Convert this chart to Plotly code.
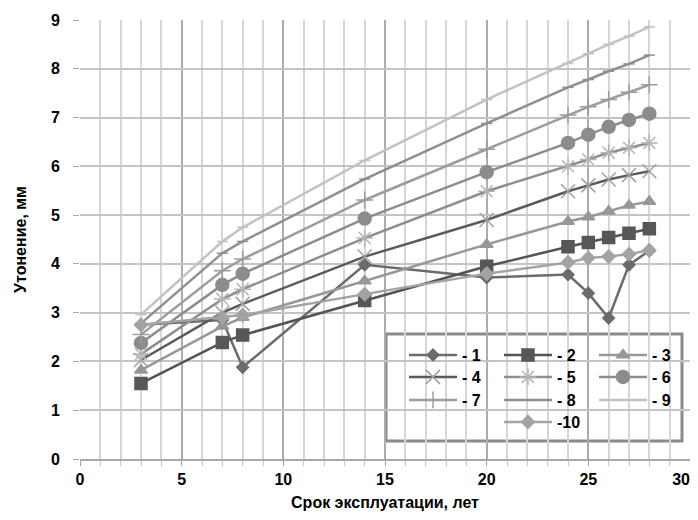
import plotly.graph_objects as go

# ---- data ----
years = [3, 7, 8, 14, 20, 24, 25, 26, 27, 28]
s1 = [2.75, 2.85, 1.88, 3.98, 3.72, 3.78, 3.40, 2.89, 3.98, 4.27]
s2 = [1.55, 2.39, 2.54, 3.25, 3.95, 4.35, 4.44, 4.54, 4.63, 4.72]
s3 = [1.82, 2.72, 2.90, 3.65, 4.40, 4.87, 4.96, 5.08, 5.20, 5.28]
s4 = [2.03, 3.00, 3.18, 4.15, 4.90, 5.49, 5.61, 5.73, 5.82, 5.90]
s5 = [2.15, 3.28, 3.48, 4.53, 5.49, 6.00, 6.14, 6.28, 6.38, 6.48]
s6 = [2.38, 3.57, 3.80, 4.93, 5.88, 6.48, 6.65, 6.81, 6.95, 7.08]
s7 = [2.55, 3.86, 4.10, 5.31, 6.35, 7.05, 7.22, 7.37, 7.52, 7.67]
s8 = [2.78, 4.22, 4.46, 5.74, 6.88, 7.62, 7.78, 7.95, 8.10, 8.28]
s9 = [2.96, 4.46, 4.75, 6.12, 7.37, 8.11, 8.31, 8.50, 8.67, 8.86]
s10 = [2.75, 2.90, 2.95, 3.38, 3.80, 4.03, 4.12, 4.15, 4.20, 4.28]
names = ["- 1", "- 2", "- 3", "- 4", "- 5", "- 6", "- 7", "- 8", "- 9", "-10"]
x_ticks = [0, 5, 10, 15, 20, 25, 30]
y_ticks = [0, 1, 2, 3, 4, 5, 6, 7, 8, 9]

series = [s1, s2, s3, s4, s5, s6, s7, s8, s9, s10]

# style per series: (line colour, marker symbol, marker size, marker colour, line width)
styles = [
    ("#6b6b6b", "diamond", 9, "#6b6b6b", 2.5),
    ("#545454", "square", 12, "#575757", 2.5),
    ("#979797", "triangle-up", 11, "#979797", 2.5),
    ("#5a5a5a", "x-thin-open", 14, "#a0a0a0", 2.5),
    ("#8e8e8e", "asterisk-open", 14, "#b4b4b4", 2.5),
    ("#8c8c8c", "circle", 13, "#8c8c8c", 2.5),
    ("#9c9c9c", "cross-thin-open", 12, "#9c9c9c", 2.5),
    ("#8f8f8f", "line-ew-open", 8, "#8f8f8f", 2.5),
    ("#c2c2c2", "line-ew-open", 8, "#c2c2c2", 2.5),
    ("#a3a3a3", "diamond", 10, "#a3a3a3", 2.5),
]
legend_of = ["legend", "legend", "legend", "legend2", "legend2", "legend2",
             "legend3", "legend3", "legend3", "legend4"]

FONT = "Liberation Sans, Arial, sans-serif"
FS = 16
BOLD = dict(family=FONT, size=FS, color="#000000", weight="bold")

fig = go.Figure()
for vals, name, (lc, sym, ms, mc, lw), lg in zip(series, names, styles, legend_of):
    fig.add_trace(go.Scatter(
        x=years, y=vals, name=name, mode="lines+markers",
        line=dict(color=lc, width=lw),
        marker=dict(symbol=sym, size=ms, color=mc, line=dict(color=mc, width=1.5)),
        legend=lg,
    ))

# page has an 8px body margin; plot area on the page: x 80..690, y 20..459
def py(ypx):
    return (459 - ypx) / 439.0

def px(xpx):
    return (xpx - 80) / 610.0

leg_common = dict(orientation="h", xanchor="left", yanchor="middle",
                  bgcolor="rgba(0,0,0,0)", borderwidth=0,
                  entrywidth=32, entrywidthmode="pixels", itemwidth=48,
                  font=BOLD, tracegroupgap=0, itemclick=False)

fig.update_layout(
    width=690, height=512,
    margin=dict(l=72, r=8, t=12, b=61, autoexpand=False),
    paper_bgcolor="white", plot_bgcolor="white",
    font=BOLD,
    legend=dict(x=px(404), y=py(355), **leg_common),
    legend2=dict(x=px(404), y=py(377), **leg_common),
    legend3=dict(x=px(404), y=py(400), **leg_common),
    legend4=dict(x=px(499), y=py(422), **leg_common),
    shapes=[dict(type="rect", xref="paper", yref="paper",
                 x0=px(386), x1=px(682), y0=py(441), y1=py(334),
                 line=dict(color="#8a8a8a", width=3), fillcolor="white", layer="below")],
)

# last label padded with figure spaces so it sits inside the page like the original
x_labels = [str(v) for v in x_ticks]
x_labels[-1] = x_labels[-1] + "\u2007\u2007"

fig.update_xaxes(
    range=[0, 30], tickvals=x_ticks, ticktext=x_labels,
    showgrid=True, gridcolor="#acacac", gridwidth=1.5,
    minor=dict(dtick=1, showgrid=True, gridcolor="#d6d6d6", gridwidth=1.5,
               ticks="outside", ticklen=5, tickcolor="#c8c8c8"),
    ticks="outside", ticklen=5, tickcolor="#a0a0a0",
    showline=True, linecolor="#a8a8a8", linewidth=1.5,
    zeroline=False, ticklabelstandoff=0, automargin=False,
    ticklabeloverflow="allow",
    tickfont=BOLD,
    title=dict(text="Срок эксплуатации, лет", standoff=10, font=BOLD),
)
fig.update_yaxes(
    range=[0, 9], tickvals=y_ticks, ticktext=[str(v) for v in y_ticks],
    showgrid=True, gridcolor="#c4c4c4", gridwidth=1.5,
    ticks="outside", ticklen=6, tickcolor="#a8a8a8",
    showline=False, zeroline=False, ticklabelstandoff=10, automargin=False,
    tickfont=BOLD,
    title=dict(text="Утонение, мм", standoff=20, font=BOLD),
)

fig.write_html("out.html")
